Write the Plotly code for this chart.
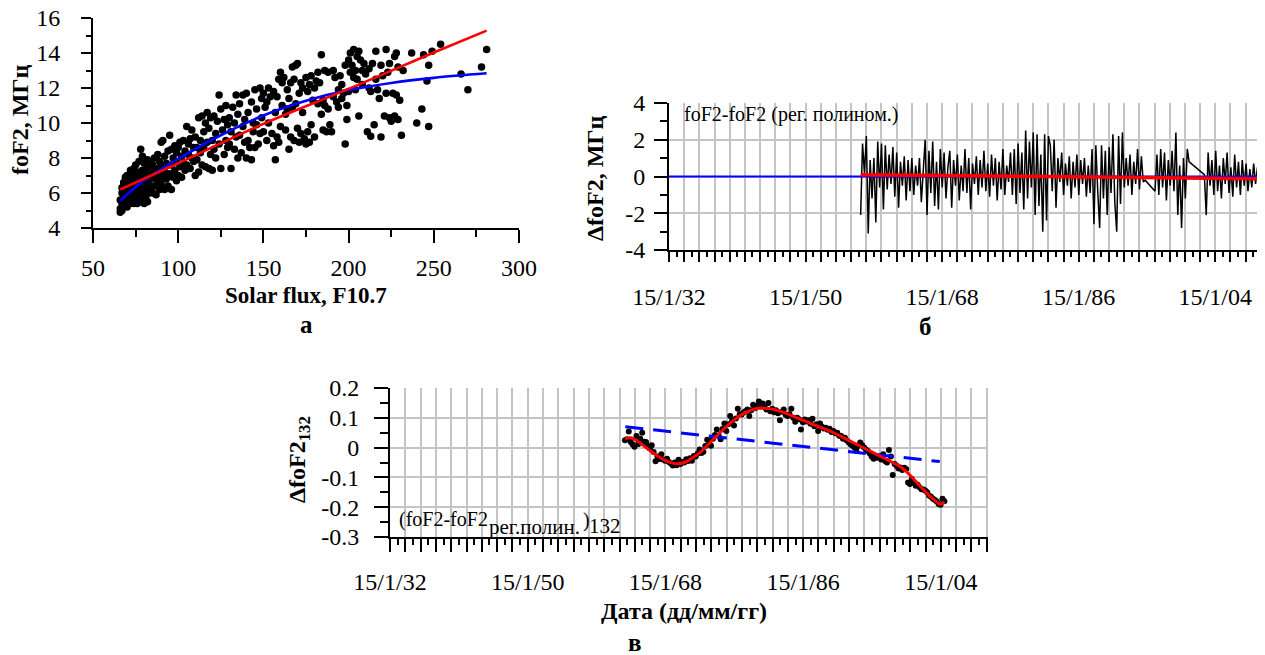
import plotly.graph_objects as go

# the page body adds an 8px margin; positions below are screen pixels
OFF = 8
W, H = 1265 - OFF, 655 - OFF
FONT = "Liberation Serif"

# ---------------- Panel а : foF2 vs F10.7 ----------------
flux_a = [
    66, 66, 66, 67, 67, 67, 67, 68, 68, 68, 68, 69, 69, 69, 69, 69,
    70, 70, 70, 70, 71, 71, 71, 71, 72, 72, 72, 72, 73, 73, 73, 73, 74, 74, 74, 74,
    75, 75, 75, 75, 76, 76, 76, 76, 77, 77, 77, 77, 78, 78, 78, 78, 79, 79, 79, 79,
    80, 80, 80, 80, 81, 81, 81, 82, 82, 82, 82, 83, 83, 83, 84, 84, 84,
    85, 85, 85, 86, 86, 86, 87, 87, 87, 88, 88, 88, 89, 89, 89,
    90, 90, 90, 91, 91, 92, 92, 92, 93, 93, 94, 94, 94,
    95, 95, 96, 96, 96, 97, 97, 98, 98, 99, 99, 99,
    100, 100, 101, 101, 102, 102, 103, 103, 104, 104,
    105, 105, 106, 106, 107, 107, 108, 108, 109, 109,
    110, 110, 111, 111, 112, 112, 113, 113, 114, 114,
    115, 115, 116, 116, 117, 117, 118, 118, 119, 119,
    120, 120, 121, 121, 122, 122, 123, 124, 124,
    125, 125, 126, 127, 127, 128, 128, 129, 129,
    130, 130, 131, 131, 132, 133, 133, 134, 134,
    135, 135, 136, 136, 137, 138, 138, 139, 139,
    140, 140, 141, 141, 142, 143, 143, 144, 144,
    145, 145, 146, 146, 147, 148, 148, 149, 149,
    150, 150, 151, 152, 152, 153, 153, 154,
    155, 156, 156, 157, 157, 158, 158, 159, 159,
    160, 160, 161, 161, 162, 163, 163, 164, 164,
    165, 165, 166, 166, 167, 167, 168, 168, 169, 169,
    170, 170, 171, 171, 172, 172, 173, 173, 174,
    175, 175, 176, 176, 177, 177, 178, 178, 179,
    180, 180, 181, 182, 182, 183, 184, 184,
    185, 185, 186, 186, 187, 188, 188, 189,
    190, 191, 191, 192, 193, 194, 194,
    195, 196, 196, 197, 198, 198, 199, 199,
    200, 200, 201, 201, 202, 203, 203, 204, 204,
    205, 205, 206, 206, 207, 208, 208, 209,
    210, 211, 212, 212, 213, 213, 214,
    215, 216, 216, 217, 218, 219, 219,
    220, 221, 222, 222, 223, 224, 224,
    225, 226, 227, 227, 228, 228, 229, 229,
    230, 231, 232, 237,
    240, 243, 244, 246, 247, 247, 249, 254,
    266, 270, 278, 281,
]
fof2_a = [
    4.9, 5.1, 5.6, 5.0, 5.4, 6.0, 6.3, 5.2, 5.7, 6.1, 6.6, 5.3, 5.8, 6.4, 6.9, 6.2,
    5.2, 5.7, 6.4, 7.0, 5.5, 6.0, 6.7, 5.9, 5.4, 6.2, 6.8, 7.3, 5.6, 6.1, 6.5, 7.1, 5.4, 5.9, 6.6, 7.4,
    5.5, 6.2, 6.8, 7.6, 5.4, 6.0, 6.5, 7.2, 5.8, 6.3, 6.9, 7.8, 5.6, 6.4, 7.0, 8.5, 5.9, 6.6, 7.3, 8.1,
    5.4, 6.1, 6.8, 7.7, 5.7, 6.5, 7.3, 5.5, 6.2, 7.0, 7.9, 6.0, 6.7, 7.5, 6.3, 7.1, 7.8,
    6.0, 6.9, 7.6, 6.4, 7.2, 8.0, 5.9, 6.8, 7.4, 6.6, 7.3, 8.2, 6.2, 7.0, 7.8,
    6.5, 7.5, 8.9, 6.9, 9.0, 6.2, 7.2, 8.1, 6.8, 7.7, 7.0, 8.4, 6.4,
    7.1, 9.3, 6.2, 7.6, 8.5, 6.9, 8.0, 7.3, 8.7, 6.7, 7.8, 8.3,
    7.0, 8.6, 7.5, 8.9, 6.9, 8.1, 7.7, 9.0, 7.3, 8.4,
    7.6, 9.8, 8.2, 8.8, 7.4, 9.1, 8.0, 9.6, 7.8, 8.6,
    7.0, 9.2, 7.9, 8.6, 7.2, 10.3, 8.3, 9.0, 7.6, 10.4,
    8.6, 9.5, 7.5, 10.0, 8.9, 10.6, 7.4, 9.7, 8.2, 10.3,
    7.3, 9.0, 8.5, 10.4, 8.0, 9.4, 10.1, 8.8, 11.6,
    7.4, 10.8, 9.6, 8.2, 10.2, 9.0, 11.0, 8.6, 9.9,
    8.8, 10.3, 7.4, 9.5, 10.9, 8.5, 10.0, 9.2, 11.6,
    8.0, 10.5, 9.3, 11.1, 8.3, 9.8, 11.6, 8.9, 10.2,
    8.0, 11.7, 9.0, 10.6, 8.6, 7.9, 11.2, 9.5, 10.0,
    8.6, 11.9, 9.9, 10.8, 8.8, 9.4, 12.0, 10.3, 11.4,
    9.5, 11.7, 10.9, 9.0, 11.2, 10.0, 12.0, 11.5,
    9.4, 11.8, 8.7, 7.9, 10.6, 9.2, 11.5, 8.9, 12.5,
    9.8, 12.9, 11.0, 12.3, 12.6, 9.6, 10.5, 11.9, 10.8,
    8.5, 11.4, 9.2, 12.3, 10.9, 13.2, 9.0, 12.5, 11.1, 13.3,
    9.7, 13.4, 8.9, 11.7, 9.4, 12.3, 10.6, 12.0, 9.1,
    8.8, 12.6, 11.8, 9.5, 12.2, 8.9, 9.9, 12.7, 11.3,
    9.2, 12.0, 12.4, 11.1, 12.9, 12.3, 10.5, 13.9,
    9.6, 11.3, 13.0, 11.0, 9.5, 12.9, 10.8, 9.9,
    9.5, 13.0, 11.5, 12.6, 11.2, 11.9, 10.9,
    12.7, 11.4, 12.2, 11.7, 8.8, 13.3, 10.2, 11.0,
    13.6, 11.8, 12.9, 14.0, 13.3, 12.6, 14.2, 13.0, 11.9,
    13.8, 12.5, 14.1, 10.4, 13.6, 13.0, 12.2, 13.4,
    12.8, 9.5, 12.0, 13.1, 9.25, 11.8, 13.4,
    9.9, 14.1, 12.5, 11.9, 11.4, 9.2, 13.3,
    12.7, 10.4, 14.2, 11.7, 12.9, 10.3, 13.4,
    10.1, 11.7, 13.8, 10.4, 11.6, 14.0, 10.2, 13.2,
    11.3, 9.3, 13.0, 14.0,
    10.0, 10.8, 13.9, 12.4, 9.8, 13.3, 14.1, 14.5,
    12.8, 11.9, 13.2, 14.2,
]
red_fit_flux = [66, 100, 150, 200, 250, 281]
red_fit_fof2 = [6.2, 7.7, 9.95, 11.95, 14.03, 15.28]
blue_fit_flux = [66, 80, 100, 125, 150, 175, 200, 225, 250, 281]
blue_fit_fof2 = [5.57, 6.72, 7.95, 9.3, 10.43, 11.27, 11.88, 12.29, 12.58, 12.84]

a_xticks = [50, 100, 150, 200, 250, 300]
a_yticks = [4, 6, 8, 10, 12, 14, 16]

# ---------------- Panel б : residuals ----------------
res_seg_starts = [1957.3, 1996.1, 2002.6]
res_step = 0.25
res_seg1 = [
    -2.1, 1.8, 0.2, 2.2, -3.1, 0.9, -1.2, 1.0, -2.5, 1.9, -0.6, 1.8, -1.8, 1.7, -0.7, 1.2, -0.4, 1.6, -1.1, 1.3,
    -1.7, 0.8, -0.5, 1.1, -1.3, 0.9, -0.8, 1.0, -1.0, 0.6, -0.5, 1.0, -1.4, 0.7, 2.0, -2.1, 1.4, -0.9, 1.9, -1.6,
    0.8, -1.8, 1.5, -0.6, 1.3, -1.2, 0.5, 1.4, -1.7, 0.9, -0.5, 1.2, -1.3, 0.6, -0.8, 1.5, -0.9, 1.0, -1.8, 0.7,
    -0.4, 1.1, -1.0, 0.9, -0.6, 1.4, -0.8, 0.7, -1.1, 1.2, -0.5, 1.0, -1.3, 0.8, -0.7, 1.5, -1.0, 0.6, -0.3, 1.3,
    -1.0, 1.5, -1.5, 1.8, -0.9, 1.3, -1.8, 2.5, -1.2, 1.9, -0.6, 2.4, -2.1, 2.3, -1.6, 1.2, -3.0, 2.3, -2.4, 2.2,
    1.7, -0.8, 2.0, -1.7, 1.0, -0.3, 1.3, -1.0, 0.7, -0.5, 1.1, -1.2, 0.8, -0.6, 1.2, -1.0, 0.9, -0.4, 1.0, -1.1,
    0.6, -0.9, 1.5, -2.6, 1.7, -0.8, -2.8, 1.7, -1.2, 1.4, -2.1, 1.6, -0.9, 2.3, -1.4, -3.0, 2.2, -1.5, 2.4, -0.6,
    1.0, -0.5, 1.2, -1.0, 0.8, -0.4, 1.5, -0.7, 1.1, -0.3, -0.2,
]
res_seg2 = [-0.8, 1.2, -1.0, 1.5, -0.6, 1.3, -1.3, 0.9, -0.5, 1.4, -0.8, 2.4, -2.1, 0.6, -2.8, 1.0, -1.2, 1.5, 0.8]
res_seg3 = [
    0.1, -2.1, 1.3, -0.5, 0.9, -1.0, 1.4, -0.8, 0.6, -1.2, 1.0, -0.4, 1.3, -0.9, 0.5,
    -1.1, 1.2, -0.6, 0.8, -1.0, 0.9, -0.5, 0.7, -0.8, 0.4, -0.6, 0.7, -0.4, 0.5, -1.3,
]
trend_b_years = [1957.3, 2009.85]
trend_b_vals = [0.1, -0.12]
zero_b_years = [1932.04, 2010.2]
zero_b_vals = [0, 0]
b_yticks = [-4, -2, 0, 2, 4]
b_yticktext = ["-4", "-2", "0", "2", "4"]

# ---------------- Panel в : 132-month smoothed residuals ----------------
dots_start = 1962.75
dots_step = 0.25
dots_c = [
    0.025,
    0.028, 0.054, 0.019, 0.010,
    0.003, 0.039, 0.012, 0.030,
    0.050, 0.020, 0.019, 0.005,
    -0.002, 0.008, -0.015, -0.046,
    -0.030, -0.038, -0.022, -0.040,
    -0.044, -0.037, -0.048, -0.053,
    -0.060, -0.050, -0.059, -0.041,
    -0.055, -0.048, -0.050, -0.039,
    -0.045, -0.036, -0.044, -0.028,
    -0.030, -0.020, -0.006, -0.018,
    -0.014, 0.005, 0.026, 0.012,
    0.006, 0.030, 0.042, 0.061,
    0.040, 0.028, 0.062, 0.081,
    0.056, 0.078, 0.106, 0.090,
    0.074, 0.098, 0.130, 0.112,
    0.111, 0.118, 0.122, 0.128,
    0.106, 0.125, 0.144, 0.132,
    0.140, 0.155, 0.138, 0.148,
    0.135, 0.128, 0.150, 0.122,
    0.130, 0.119, 0.125, 0.115,
    0.092, 0.120, 0.128, 0.110,
    0.106, 0.112, 0.130, 0.100,
    0.087, 0.100, 0.095, 0.061,
    0.085, 0.094, 0.088, 0.092,
    0.080, 0.097, 0.072, 0.078,
    0.056, 0.081, 0.070, 0.064,
    0.067, 0.060, 0.063, 0.052,
    0.056, 0.048, 0.050, 0.040,
    0.039, 0.030, 0.033, 0.024,
    0.017, 0.010, 0.006, 0.000,
    -0.011, 0.005, 0.017, 0.008,
    0.000, -0.006, -0.011, -0.020,
    -0.030, -0.037, -0.028, -0.034,
    -0.030, -0.040, -0.022, -0.045,
    -0.050, -0.008, -0.030, -0.092,
    -0.055, -0.061, -0.070, -0.067,
    -0.075, -0.068, -0.072, -0.117,
    -0.122, -0.105, -0.118, -0.128,
    -0.125, -0.133, -0.140, -0.141,
    -0.144, -0.150, -0.161, -0.165,
    -0.172, -0.176, -0.181, -0.189,
    -0.192, -0.172, -0.180,
]
smooth_years = [1962.8, 1963.5, 1964.0, 1965.0, 1966.0, 1967.0, 1968.0, 1969.0, 1969.6, 1970.5,
                1971.5, 1972.5, 1973.5, 1974.5, 1975.5, 1976.5, 1977.5, 1978.5, 1979.5, 1980.5,
                1981.5, 1982.5, 1983.5, 1984.5, 1985.5, 1986.5, 1987.5, 1988.5, 1989.5, 1990.5,
                1991.5, 1992.5, 1993.5, 1994.5, 1995.5, 1996.5, 1997.5, 1998.5, 1999.5, 2000.5,
                2001.5, 2002.5, 2003.5, 2004.0, 2004.5]
smooth_vals = [0.030, 0.033, 0.028, 0.010, -0.010, -0.028, -0.043, -0.052, -0.054, -0.050,
               -0.036, -0.018, 0.007, 0.033, 0.058, 0.082, 0.102, 0.118, 0.128, 0.133,
               0.131, 0.126, 0.118, 0.108, 0.097, 0.087, 0.076, 0.066, 0.056, 0.044,
               0.031, 0.018, 0.005, -0.008, -0.021, -0.034, -0.047, -0.060, -0.080, -0.106,
               -0.134, -0.160, -0.182, -0.190, -0.182]
trend_c_years = [1962.8, 2003.9]
trend_c_vals = [0.070, -0.047]
c_yticks = [-0.3, -0.2, -0.1, 0, 0.1, 0.2]
c_yticktext = ["-0.3", "-0.2", "-0.1", "0", "0.1", "0.2"]

time_label_years = [1932.04, 1950.04, 1968.04, 1986.04, 2004.04]
time_labels = ["15/1/32", "15/1/50", "15/1/68", "15/1/86", "15/1/04"]
x_start, x_end = 1932.04, 2010.2

# ---- derived x values ----
res_years, res_vals = [], []
for start, seg in zip(res_seg_starts, [res_seg1, res_seg2, res_seg3]):
    res_years += [start + i * res_step for i in range(len(seg))]
    res_vals += seg
dots_years = [dots_start + i * dots_step for i in range(len(dots_c))]

grid_years = [x_start + 2 * k for k in range(40)]
grid_text = []
for gy in grid_years:
    lab = " "
    for ly, lt in zip(time_label_years, time_labels):
        if abs(gy - ly) < 1e-6:
            lab = lt
    grid_text.append(lab)
minor_years = [x_start + 1 + 2 * k for k in range(39)]


def px(x0, x1):
    return [(x0 - OFF) / W, (x1 - OFF) / W]


def py(top, bottom):
    return [1 - (bottom - OFF) / H, 1 - (top - OFF) / H]


tickfont = dict(family=FONT, size=24, color="black")
GRID = "#c4c4c4"

fig = go.Figure()

# panel а
fig.add_trace(go.Scatter(x=flux_a, y=fof2_a, mode="markers", xaxis="x", yaxis="y",
                         marker=dict(color="black", size=7.5), showlegend=False))
fig.add_trace(go.Scatter(x=blue_fit_flux, y=blue_fit_fof2, mode="lines", xaxis="x", yaxis="y",
                         line=dict(color="#0000ff", width=2.6, shape="spline"), showlegend=False))
fig.add_trace(go.Scatter(x=red_fit_flux, y=red_fit_fof2, mode="lines", xaxis="x", yaxis="y",
                         line=dict(color="#ff0000", width=2.6, shape="spline"), showlegend=False))

# panel б
fig.add_trace(go.Scatter(x=res_years, y=res_vals, mode="lines", xaxis="x2", yaxis="y2",
                         line=dict(color="black", width=1.5), showlegend=False))
fig.add_trace(go.Scatter(x=zero_b_years, y=zero_b_vals, mode="lines", xaxis="x2", yaxis="y2",
                         line=dict(color="#0000ff", width=2), showlegend=False))
fig.add_trace(go.Scatter(x=trend_b_years, y=trend_b_vals, mode="lines", xaxis="x2", yaxis="y2",
                         line=dict(color="#ff0000", width=3.5), showlegend=False))

# panel в
fig.add_trace(go.Scatter(x=dots_years, y=dots_c, mode="markers", xaxis="x3", yaxis="y3",
                         marker=dict(color="black", size=6), showlegend=False))
fig.add_trace(go.Scatter(x=trend_c_years, y=trend_c_vals, mode="lines", xaxis="x3", yaxis="y3",
                         line=dict(color="#0000ff", width=3, dash="18px,10px"), showlegend=False))
fig.add_trace(go.Scatter(x=smooth_years, y=smooth_vals, mode="lines", xaxis="x3", yaxis="y3",
                         line=dict(color="#ff0000", width=3, shape="spline"), showlegend=False))

common = dict(showline=True, linecolor="black", linewidth=2, ticks="outside", tickcolor="black",
              tickwidth=1.5, zeroline=False, tickfont=tickfont, automargin=False, tickangle=0)


def time_axis(domain, anchor, ticklen, minorlen, standoff):
    return dict(common, domain=domain, anchor=anchor, range=[x_start, x_end], tickmode="array",
                tickvals=grid_years, ticktext=grid_text, ticklen=ticklen, showgrid=True,
                gridcolor=GRID, gridwidth=1.5, ticklabelstandoff=standoff,
                minor=dict(tickmode="array", tickvals=minor_years, ticks="outside", ticklen=minorlen,
                           tickcolor="black", tickwidth=1.5, showgrid=False))


fig.update_layout(
    width=W, height=H, margin=dict(l=0, r=0, t=0, b=0, autoexpand=False),
    paper_bgcolor="white", plot_bgcolor="white",
    font=dict(family=FONT, color="black"),
    xaxis=dict(common, domain=px(93, 519), anchor="y", range=[50, 300], tickmode="array",
               tickvals=a_xticks, ticklen=13, showgrid=False, ticklabelstandoff=4,
               minor=dict(tickmode="array", tickvals=[75, 125, 175, 225, 275], ticks="outside",
                          ticklen=7, tickcolor="black", tickwidth=1.5)),
    yaxis=dict(common, domain=py(18, 228), anchor="x", range=[4, 16], tickmode="array",
               tickvals=a_yticks, ticklen=10, showgrid=False, ticklabelstandoff=16,
               minor=dict(tickmode="array", tickvals=[5, 7, 9, 11, 13, 15], ticks="outside",
                          ticklen=5, tickcolor="black", tickwidth=1.5)),
    xaxis2=time_axis(px(669, 1262), "y2", 10, 5, 14),
    yaxis2=dict(common, domain=py(103, 250), anchor="x2", range=[-4, 4], tickmode="array",
                tickvals=b_yticks, ticktext=b_yticktext, ticklen=13, showgrid=True, gridcolor=GRID,
                gridwidth=1.5, ticklabelstandoff=4,
                minor=dict(tickmode="array", tickvals=[-3, -1, 1, 3], ticks="outside", ticklen=7,
                           tickcolor="black", tickwidth=1.5, showgrid=False)),
    xaxis3=time_axis(px(390, 988), "y3", 13, 6, 9),
    yaxis3=dict(common, domain=py(388, 537), anchor="x3", range=[-0.3, 0.2], tickmode="array",
                tickvals=c_yticks, ticktext=c_yticktext, ticklen=14, showgrid=True, gridcolor=GRID,
                gridwidth=1.5, ticklabelstandoff=10,
                minor=dict(tickmode="array", tickvals=[-0.25, -0.15, -0.05, 0.05, 0.15], ticks="outside",
                           ticklen=8, tickcolor="black", tickwidth=1.5, showgrid=False)),
)


def note(text, x, y, size, angle=0, xanchor="center"):
    fig.add_annotation(text=text, x=(x - OFF) / W, y=1 - (y - OFF) / H, xref="paper", yref="paper",
                       showarrow=False, textangle=angle, xanchor=xanchor, yanchor="middle",
                       font=dict(family=FONT, size=size, color="black"))


note("<b>foF2, МГц</b>", 20, 120, 24, angle=-90)
note("<b>Solar flux, F10.7</b>", 306, 295, 23)
note("<b>а</b>", 306, 325, 25)

note("<b>ΔfoF2, МГц</b>", 595, 178, 24, angle=-90)
note("foF2-foF2 (рег. полином.)", 682, 115, 20, xanchor="left")
note("<b>б</b>", 925, 326, 25)

note("<b>ΔfoF2<sub>132</sub></b>", 299, 460, 24, angle=-90)
note("(foF2-foF2", 397, 519, 20, xanchor="left")
note("рег.полин.", 487, 527, 21, xanchor="left")
note(")", 581, 520, 20, xanchor="left")
note("132", 587, 526, 21, xanchor="left")
note("<b>Дата (дд/мм/гг)</b>", 684, 611, 24)
note("<b>в</b>", 635, 642, 25)

fig.write_html("out.html")
